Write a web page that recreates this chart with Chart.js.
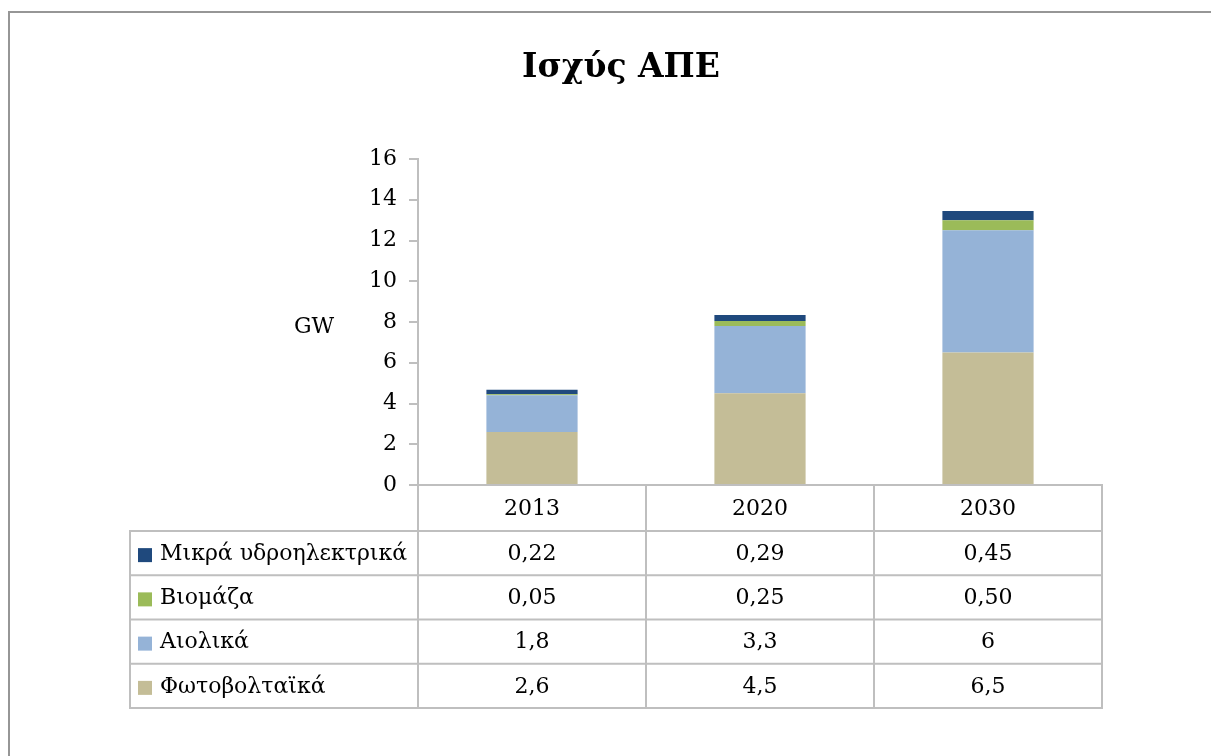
<!DOCTYPE html>
<html>
<head>
<meta charset="utf-8">
<script src="https://cdn.jsdelivr.net/npm/chart.js@4.4.1/dist/chart.umd.min.js"></script>
<style>
  html, body { margin: 0; padding: 0; background: #ffffff; }
  #wrap { position: relative; width: 1211px; height: 756px; }
</style>
</head>
<body>
<div id="wrap"><canvas id="c" width="1211" height="756"></canvas></div>
<script>
// ---- Data ----
const chartTitle = 'Ισχύς ΑΠΕ';
const yAxisTitle = 'GW';
const categories = ['2013', '2020', '2030'];
const seriesNames = ['Φωτοβολταϊκά', 'Αιολικά', 'Βιομάζα', 'Μικρά υδροηλεκτρικά'];
const photovoltaic = [2.6, 4.5, 6.5];
const wind = [1.8, 3.3, 6];
const biomass = [0.05, 0.25, 0.50];
const smallHydro = [0.22, 0.29, 0.45];
const tableDecimals = [0, 0, 2, 2]; // minimum decimals shown in the data table per series
const yMin = 0, yMax = 16, yStep = 2;

// ---- Styles ----
const FONT = '"DejaVu Serif", "Liberation Serif", serif';
const FS = 22;
const colors = ['#c4bd97', '#95b3d7', '#9bbb59', '#1f497d'];
const lineColor = '#bfbfbf';

function fmt(v, minDec) {
  let s = String(v);
  let [a, b = ''] = s.split('.');
  while (b.length < minDec) b += '0';
  return b.length ? a + ',' + b : a;
}

const seriesValues = [photovoltaic, wind, biomass, smallHydro];

const decorPlugin = {
  id: 'decor',
  afterDraw(chart) {
    const ctx = chart.ctx;
    const area = chart.chartArea;
    const xs = chart.scales.x;
    const n = categories.length;
    const colW = (area.right - area.left) / n;
    const axisY = area.bottom;
    const headerBottom = axisY + 46;
    const rowH = 44.25;
    const tableLeft = 130;
    const tableBottom = headerBottom + rowH * seriesNames.length;

    ctx.save();
    // outer frame
    ctx.strokeStyle = '#969696';
    ctx.lineWidth = 2;
    ctx.beginPath();
    ctx.moveTo(9, 760);
    ctx.lineTo(9, 12);
    ctx.lineTo(1215, 12);
    ctx.stroke();

    // title
    ctx.fillStyle = '#000';
    ctx.font = 'bold 33px ' + FONT;
    ctx.textAlign = 'center';
    ctx.textBaseline = 'alphabetic';
    ctx.fillText(chartTitle, 621, 77);

    // y axis title
    ctx.font = FS + 'px ' + FONT;
    ctx.textAlign = 'center';
    ctx.textBaseline = 'middle';
    ctx.fillText(yAxisTitle, 314, 327);

    // table lines
    ctx.strokeStyle = lineColor;
    ctx.lineWidth = 2;
    ctx.beginPath();
    for (let i = 0; i <= n; i++) {
      const x = area.left + i * colW;
      ctx.moveTo(x, axisY);
      ctx.lineTo(x, tableBottom);
    }
    ctx.moveTo(tableLeft, headerBottom);
    ctx.lineTo(tableLeft, tableBottom);
    for (let r = 0; r <= seriesNames.length; r++) {
      const y = headerBottom + r * rowH;
      ctx.moveTo(tableLeft - 1, y);
      ctx.lineTo(area.right + 1, y);
    }
    ctx.stroke();

    // header labels
    ctx.fillStyle = '#000';
    ctx.font = FS + 'px ' + FONT;
    ctx.textAlign = 'center';
    ctx.textBaseline = 'middle';
    for (let i = 0; i < n; i++) {
      ctx.fillText(categories[i], xs.getPixelForValue(i), (axisY + headerBottom) / 2 + 1);
    }

    // rows (top row = last series)
    for (let r = 0; r < seriesNames.length; r++) {
      const s = seriesNames.length - 1 - r;
      const cy = headerBottom + r * rowH + rowH / 2 + 1;
      ctx.fillStyle = colors[s];
      ctx.fillRect(138, cy - 6, 14, 14);
      ctx.fillStyle = '#000';
      ctx.textAlign = 'left';
      ctx.fillText(seriesNames[s], 160, cy);
      ctx.textAlign = 'center';
      for (let i = 0; i < n; i++) {
        ctx.fillText(fmt(seriesValues[s][i], tableDecimals[s]), xs.getPixelForValue(i), cy);
      }
    }
    ctx.restore();
  }
};

new Chart(document.getElementById('c'), {
  type: 'bar',
  data: {
    labels: categories,
    datasets: seriesNames.map((name, i) => ({
      label: name,
      data: seriesValues[i],
      backgroundColor: colors[i],
      borderWidth: 0,
      categoryPercentage: 1.0,
      barPercentage: 0.4
    }))
  },
  options: {
    responsive: false,
    animation: false,
    layout: { padding: { left: 318, right: 109, top: 159, bottom: 271 } },
    plugins: { legend: { display: false }, title: { display: false }, tooltip: { enabled: false } },
    scales: {
      x: {
        stacked: true,
        ticks: { display: false },
        grid: { display: false, drawTicks: false },
        border: { display: true, color: lineColor, width: 2 },
        afterFit(scale) { scale.height = 0; }
      },
      y: {
        stacked: true,
        min: yMin, max: yMax,
        ticks: { stepSize: yStep, color: '#000', padding: 12, font: { family: FONT, size: FS } },
        grid: { drawOnChartArea: false, drawTicks: true, tickLength: 9, color: lineColor, lineWidth: 2 },
        border: { display: true, color: lineColor, width: 2 },
        afterFit(scale) { scale.width = 100; }
      }
    }
  },
  plugins: [decorPlugin]
});
</script>
</body>
</html>
